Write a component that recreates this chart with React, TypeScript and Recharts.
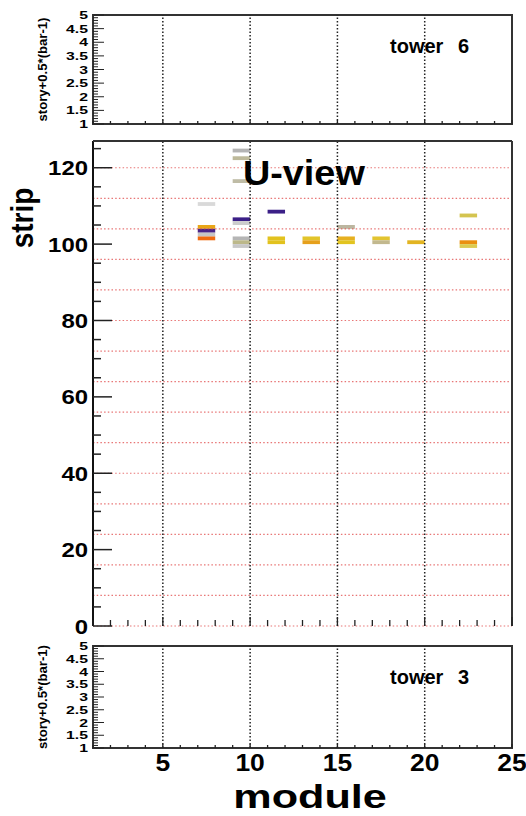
import { ScatterChart, Scatter, XAxis, YAxis, ReferenceLine, ReferenceArea } from "recharts";

// axis ticks and labels
const moduleTicks = [1, 2, 3, 4, 5, 6, 7, 8, 9, 10, 11, 12, 13, 14, 15, 16, 17, 18, 19, 20, 21, 22, 23, 24, 25];
const moduleGrid = [5, 10, 15, 20];
const stripTicks = [0, 5, 10, 15, 20, 25, 30, 35, 40, 45, 50, 55, 60, 65, 70, 75, 80, 85, 90, 95, 100, 105, 110, 115, 120, 125];
const stripGrid = [0, 8, 16, 24, 32, 40, 48, 56, 64, 72, 80, 88, 96, 104, 112, 120];
const storyLabels = [1, 1.5, 2, 2.5, 3, 3.5, 4, 4.5, 5];
const storyMinor = Array.from({ length: 41 }, (_, i) => 1 + i / 10);

// U-view hits: module, strip, colour
const hitModules = [7, 7, 7, 7, 7, 9, 9, 9, 9, 9, 9, 9, 9, 11, 11, 11, 13, 13, 15, 15, 15, 17, 17, 19, 22, 22, 22];
const hitStrips = [110, 104, 103, 102, 101, 124, 122, 116, 106, 105, 101, 100, 99, 108, 101, 100, 101, 100, 104, 101, 100, 101, 100, 100, 107, 100, 99];
const hitColors = [
  "#d9d9d9", "#e9a617", "#4a2488", "#c6c6c6", "#f06a10",
  "#b4b4b4", "#bdb99a", "#bfbca6", "#3b1f87", "#cccccc", "#b5b5b5", "#bcb88a", "#c8c8c8",
  "#3b1f87", "#e2c21e", "#e2c21e",
  "#e2c42a", "#e6a01c",
  "#bcb6a0", "#e6b020", "#e2c420",
  "#e2c430", "#c2b88e",
  "#e2b422",
  "#d4c450", "#ea9010", "#dccb50",
];

const FONT = "'Liberation Sans', Arial, Helvetica, sans-serif";
const W = 526;
const PLOT_LEFT = 93;
const RIGHT = 14;

const hitPoints = hitModules.map((m, i) => ({ x: m + 0.5, y: hitStrips[i] + 0.5 }));
// empty tower histograms: only the frame corners, nothing drawn
const towerFrame = [
  { x: moduleTicks[0], y: storyLabels[0] },
  { x: moduleTicks[moduleTicks.length - 1], y: storyLabels[storyLabels.length - 1] },
];

const NoShape = () => <g />;

function XTick(props: any) {
  const { x, y, payload, minor, major, labels } = props;
  const v = payload.value;
  const isMajor = v % 5 === 0;
  return (
    <g>
      <line x1={x} x2={x} y1={y} y2={y - (isMajor ? major : minor)} stroke="#222" strokeWidth={1.3} />
      {labels && isMajor && (
        <text transform={`translate(${x},${y + 23}) scale(1.15,1)`} textAnchor="middle" fontFamily={FONT} fontWeight="bold" fontSize={23} fill="#000">
          {v}
        </text>
      )}
    </g>
  );
}

function StoryTick(props: any) {
  const { x, y, payload } = props;
  const v = payload.value;
  const isMajor = storyLabels.some((s) => Math.abs(s - v) < 1e-6);
  return (
    <g>
      <line x1={x} x2={x + (isMajor ? 11 : 5)} y1={y} y2={y} stroke="#222" strokeWidth={1} />
      {isMajor && (
        <text transform={`translate(${x - 5},${y + 4}) scale(1.5,1)`} textAnchor="end" fontFamily={FONT} fontWeight="bold" fontSize={10.5} fill="#000">
          {Math.round(v * 10) / 10}
        </text>
      )}
    </g>
  );
}

function StripTick(props: any) {
  const { x, y, payload } = props;
  const v = payload.value;
  const isMajor = v % 20 === 0;
  return (
    <g>
      <line x1={x} x2={x + (isMajor ? 19 : 8)} y1={y} y2={y} stroke="#222" strokeWidth={1.5} />
      {isMajor && (
        <text transform={`translate(${x - 5},${y + 7.5}) scale(1.14,1)`} textAnchor="end" fontFamily={FONT} fontWeight="bold" fontSize={21} fill="#000">
          {v}
        </text>
      )}
    </g>
  );
}

function TowerPanel({ tower, top, height, plotTop, axisHeight, labels }: any) {
  return (
    <div style={{ position: "absolute", left: 0, top, width: W, height }}>
      <ScatterChart width={W} height={height} margin={{ top: plotTop, right: RIGHT, bottom: 0, left: 0 }}>
        <XAxis
          type="number"
          dataKey="x"
          domain={[1, 25]}
          ticks={moduleTicks}
          interval={0}
          height={axisHeight}
          axisLine={false}
          tickLine={false}
          tickSize={0}
          tickMargin={0}
          tick={(p: any) => <XTick {...p} minor={3} major={4} labels={labels} />}
          label={
            labels
              ? {
                  content: () => (
                    <text transform={`translate(310,${height - 8}) scale(1.27,1)`} textAnchor="middle" fontFamily={FONT} fontWeight="bold" fontSize={34} fill="#000">
                      module
                    </text>
                  ),
                }
              : undefined
          }
        />
        <YAxis
          type="number"
          dataKey="y"
          domain={[1, 5]}
          ticks={storyMinor}
          interval={0}
          width={PLOT_LEFT}
          axisLine={false}
          tickLine={false}
          tickSize={0}
          tickMargin={0}
          tick={(p: any) => <StoryTick {...p} />}
          label={{
            content: () => (
              <g>
                <text transform={`translate(47,${(plotTop + height - axisHeight) / 2}) scale(1.15,1.25) rotate(-90)`} fontFamily={FONT} fontWeight="bold" fontSize={10.5} fill="#000" textAnchor="middle">
                  story+0.5*(bar-1)
                </text>
                <text x={390} y={plotTop + 38} fontFamily={FONT} fontWeight="bold" fontSize={20} fill="#000" wordSpacing={9}>
                  {`tower ${tower}`}
                </text>
              </g>
            ),
          }}
        />
        {moduleGrid.map((m) => (
          <ReferenceLine key={m} x={m} stroke="#222" strokeWidth={1.5} strokeDasharray="1.5 2" />
        ))}
        <ReferenceArea x1={1} x2={25} y1={1} y2={5} fill="none" stroke="#333" strokeWidth={2} />
        <Scatter data={towerFrame} shape={NoShape} isAnimationActive={false} />
      </ScatterChart>
    </div>
  );
}

function UViewPanel() {
  const top = 126;
  const height = 520;
  return (
    <div style={{ position: "absolute", left: 0, top, width: W, height }}>
      <ScatterChart width={W} height={height} margin={{ top: 15, right: RIGHT, bottom: 0, left: 0 }}>
        <XAxis
          type="number"
          dataKey="x"
          domain={[1, 25]}
          ticks={moduleTicks}
          interval={0}
          height={20}
          axisLine={false}
          tickLine={false}
          tickSize={0}
          tickMargin={0}
          tick={(p: any) => <XTick {...p} minor={6} major={9} labels={false} />}
        />
        <YAxis
          type="number"
          dataKey="y"
          domain={[0, 127]}
          ticks={stripTicks}
          interval={0}
          width={PLOT_LEFT}
          axisLine={false}
          tickLine={false}
          tickSize={0}
          tickMargin={0}
          tick={(p: any) => <StripTick {...p} />}
          label={{
            content: () => (
              <g>
                <text transform="translate(33,92) scale(1.15,1) rotate(-90)" fontFamily={FONT} fontWeight="bold" fontSize={28} fill="#000" textAnchor="middle">
                  strip
                </text>
                <text transform="translate(243,59) scale(1.08,1)" fontFamily={FONT} fontWeight="bold" fontSize={35} fill="#000">
                  U-view
                </text>
              </g>
            ),
          }}
        />
        {stripGrid.map((s) => (
          <ReferenceLine key={s} y={s} stroke="#e04848" strokeOpacity={0.75} strokeWidth={1.2} strokeDasharray="1.5 2.2" />
        ))}
        {moduleGrid.map((m) => (
          <ReferenceLine key={m} x={m} stroke="#222" strokeWidth={1.5} strokeDasharray="1.5 2" />
        ))}
        {hitModules.map((m, i) => (
          <ReferenceArea
            key={i}
            x1={m}
            x2={m + 1}
            y1={hitStrips[i]}
            y2={hitStrips[i] + 1}
            fill={hitColors[i]}
            fillOpacity={1}
            stroke="none"
          />
        ))}
        <ReferenceLine x={1} stroke="#111" strokeWidth={2} />
        <ReferenceLine y={127} stroke="#333" strokeWidth={2} />
        <ReferenceLine x={25} stroke="#333" strokeWidth={2} />
        <Scatter data={hitPoints} shape={NoShape} isAnimationActive={false} />
      </ScatterChart>
    </div>
  );
}

export default function App() {
  return (
    <div style={{ position: "absolute", left: 0, top: 0, width: W, height: 816, background: "#fff", overflow: "hidden" }}>
      <TowerPanel tower={6} top={0} height={140} plotTop={15} axisHeight={16} labels={false} />
      <UViewPanel />
      <TowerPanel tower={3} top={630} height={186} plotTop={16} axisHeight={68} labels={true} />
    </div>
  );
}
